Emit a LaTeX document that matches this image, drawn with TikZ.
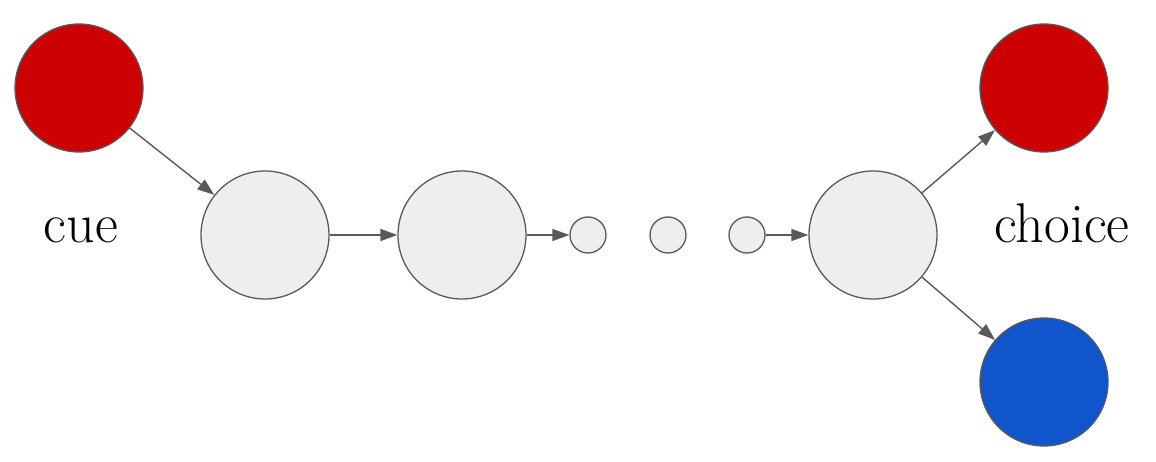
\documentclass[tikz,border=0pt]{standalone}
\usetikzlibrary{arrows.meta}
\definecolor{cred}{HTML}{CC0000}
\definecolor{cblue}{HTML}{1155CC}
\definecolor{cgray}{HTML}{EEEEEE}
\definecolor{cline}{HTML}{595959}
\tikzset{
  big/.style={circle, draw=cline, line width=1.3pt, minimum size=128pt, inner sep=0pt},
  small/.style={circle, draw=cline, line width=1.3pt, fill=cgray, minimum size=36pt, inner sep=0pt},
  conn/.style={draw=cline, line width=1.4pt, -{Triangle[length=17pt,width=12pt]}},
  lbl/.style={anchor=base, inner sep=0pt, font=\rmfamily\fontsize{56}{64}\selectfont}
}
\begin{document}
\begin{tikzpicture}[x=1pt,y=-1pt]
\useasboundingbox (0,0) rectangle (1156,462);
\node[big, fill=cred] (cue) at (79,88) {};
\node[big, fill=cgray] (g1) at (265,235) {};
\node[big, fill=cgray] (g2) at (462,235) {};
\node[small] (s1) at (588,235) {};
\node[small] (s2) at (668,235) {};
\node[small] (s3) at (747,235) {};
\node[big, fill=cgray] (g3) at (873,235) {};
\node[big, fill=cred] (cr) at (1044,88) {};
\node[big, fill=cblue] (cb) at (1044,382) {};
\node[lbl] (tcue) at (81,243) {cue};
\node[lbl] (tchoice) at (1062,243) {choice};
\draw[conn] (cue) -- (g1);
\draw[conn] (g1) -- (g2);
\draw[conn] (g2) -- (s1);
\draw[conn] (s3) -- (g3);
\draw[conn] (g3) -- (cr);
\draw[conn] (g3) -- (cb);
\end{tikzpicture}
\end{document}
